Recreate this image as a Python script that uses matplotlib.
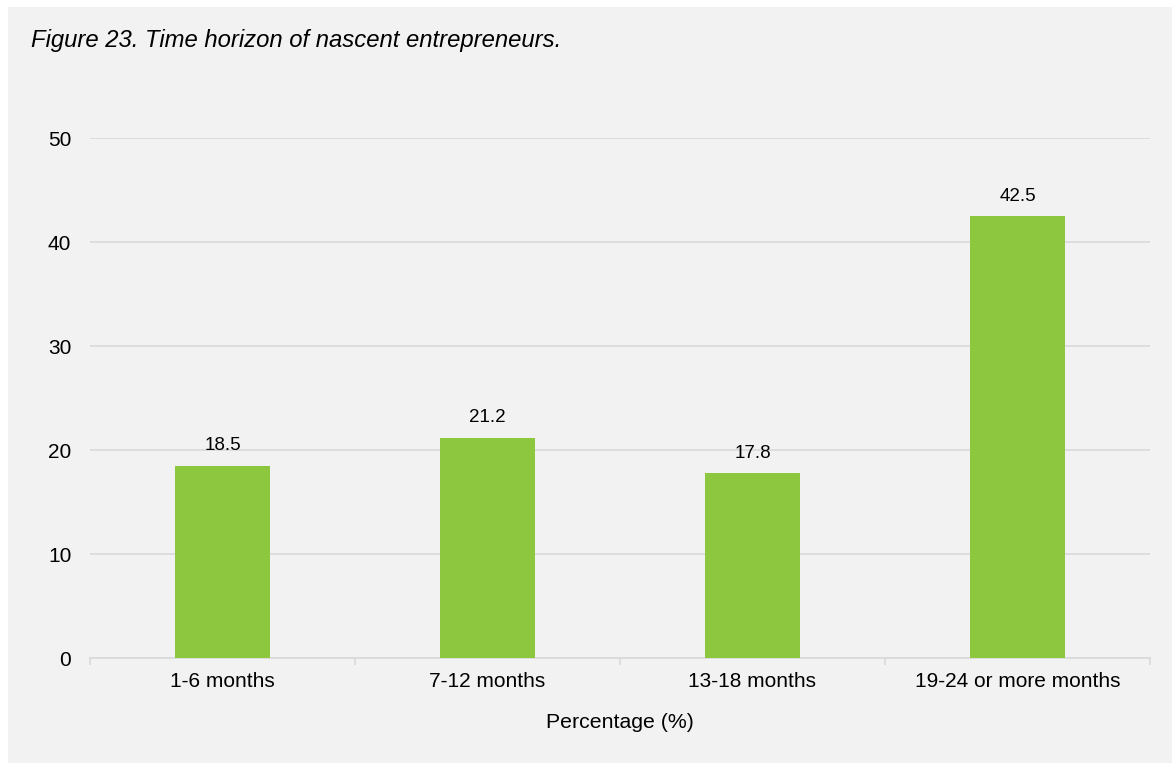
import matplotlib
matplotlib.use("Agg")
import matplotlib.pyplot as plt
from matplotlib.patches import Rectangle

categories = ["1-6 months", "7-12 months", "13-18 months", "19-24 or more months"]
values = [18.5, 21.2, 17.8, 42.5]
yticks = [0, 10, 20, 30, 40, 50]

title = "Figure 23. Time horizon of nascent entrepreneurs."
xlabel = "Percentage (%)"

BG = "#f2f2f2"
GRID = "#d9d9d9"
BAR = "#8dc63f"
TEXT = "#000000"

plt.rcParams["font.family"] = ["Liberation Sans", "DejaVu Sans"]

W, H = 1172, 763
fig = plt.figure(figsize=(W / 100, H / 100), dpi=100)
fig.patch.set_facecolor("white")
# grey panel behind the chart
fig.add_artist(Rectangle((8 / W, 0), 1 - 8 / W, 1 - 7 / H, transform=fig.transFigure,
                         facecolor=BG, edgecolor="none", zorder=0))

ax = fig.add_axes([90 / W, 1 - 658 / H, (1150 - 90) / W, (658 - 138) / H])
ax.set_facecolor(BG)
ax.patch.set_alpha(0)

x = list(range(len(categories)))
ax.bar(x, values, width=0.36, color=BAR, zorder=3)
for xi, v in zip(x, values):
    ax.annotate(f"{v:.1f}", (xi, v), xytext=(0, 11), textcoords="offset points",
                ha="center", va="baseline", fontsize=13.5, color=TEXT)

ax.set_xlim(-0.5, len(categories) - 0.5)
ax.set_ylim(0, 50)
ax.set_yticks(yticks)
ax.set_yticklabels([str(t) for t in yticks], fontsize=15, color=TEXT)
ax.yaxis.grid(True, color=GRID, linewidth=1.2, zorder=0)
ax.tick_params(axis="y", length=0, pad=13.5)

ax.set_xticks(x)
ax.set_xticklabels(categories, fontsize=15, color=TEXT)
ax.tick_params(axis="x", which="major", length=0, pad=10)
ax.set_xticks([i - 0.5 for i in range(len(categories) + 1)], minor=True)
ax.tick_params(axis="x", which="minor", length=5, width=1.2, color=GRID)

for s in ["top", "right", "left"]:
    ax.spines[s].set_visible(False)
ax.spines["bottom"].set_color(GRID)
ax.spines["bottom"].set_linewidth(1.2)

ax.set_xlabel(xlabel, fontsize=15.3, color=TEXT, va="center")
ax.xaxis.set_label_coords(0.5, (658 - 722) / (658 - 138))

fig.text(31 / W, 1 - 40 / H, title, fontsize=17.2, style="italic", color=TEXT,
         ha="left", va="center")

fig.savefig("out.png", dpi=100, facecolor=fig.get_facecolor())
